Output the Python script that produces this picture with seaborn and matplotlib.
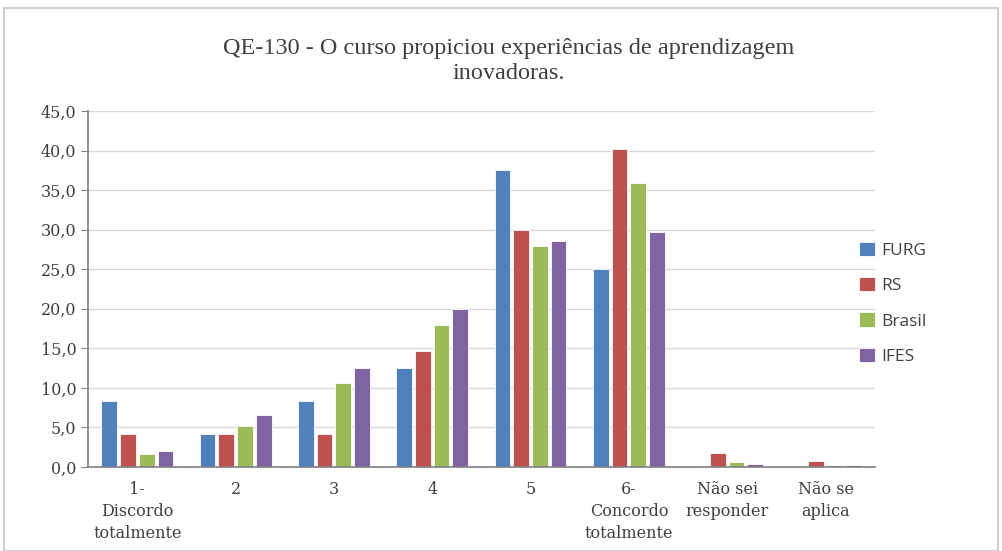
import pandas as pd
import matplotlib
matplotlib.use('Agg')
import matplotlib.pyplot as plt
import seaborn as sns
from matplotlib.ticker import FuncFormatter, FixedLocator
from matplotlib.patches import Rectangle

categories = ["1-\nDiscordo\ntotalmente", "2", "3", "4", "5",
              "6-\nConcordo\ntotalmente", "Não sei\nresponder", "Não se\naplica"]
furg = [8.3, 4.2, 8.3, 12.5, 37.5, 25.0, 0.0, 0.0]
rs = [4.2, 4.2, 4.2, 14.6, 30.0, 40.2, 1.8, 0.8]
brasil = [1.6, 5.2, 10.6, 18.0, 27.9, 35.9, 0.6, 0.2]
ifes = [2.0, 6.6, 12.5, 20.0, 28.6, 29.7, 0.4, 0.3]
series = ["FURG", "RS", "Brasil", "IFES"]
colors = ["#4F81BD", "#C0504D", "#9BBB59", "#8064A2"]

rows = []
for name, vals in zip(series, [furg, rs, brasil, ifes]):
    for c, v in zip(categories, vals):
        rows.append({"cat": c, "serie": name, "valor": v})
df = pd.DataFrame(rows)

sns.set_style("white")
fig = plt.figure(figsize=(10.02, 5.51), dpi=100)
ax = fig.add_axes([0.088, 0.1525, 0.785, 0.646])

sns.barplot(data=df, x="cat", y="valor", hue="serie", order=categories,
            hue_order=series, palette=colors, width=0.76, gap=0.16,
            edgecolor="white", linewidth=0.6, saturation=1, ax=ax)

ax.set_ylim(0, 45)
ax.set_xlim(-0.5, len(categories) - 0.5)
ax.set_yticks([i * 5 for i in range(10)])
ax.yaxis.set_major_formatter(FuncFormatter(lambda v, p: f"{v:.1f}".replace(".", ",")))
ax.grid(axis="y", color="#D9D9D9", linewidth=1)
ax.set_axisbelow(True)
ax.set_xlabel("")
ax.set_ylabel("")
for s in ["top", "right"]:
    ax.spines[s].set_visible(False)
for s in ["left", "bottom"]:
    ax.spines[s].set_color("#808080")
    ax.spines[s].set_linewidth(1.2)

ax.xaxis.set_minor_locator(FixedLocator([i - 0.5 for i in range(len(categories) + 1)]))
ax.tick_params(axis="x", which="major", length=0, pad=10)
ax.tick_params(axis="x", which="minor", length=5, color="#808080")
ax.tick_params(axis="y", length=5, color="#808080", direction="out", left=True)
for lab in ax.get_xticklabels():
    lab.set_fontfamily("DejaVu Serif")
    lab.set_fontsize(11.5)
    lab.set_color("#404040")
    lab.set_linespacing(1.4)
for lab in ax.get_yticklabels():
    lab.set_fontfamily("DejaVu Serif")
    lab.set_fontsize(11.5)
    lab.set_color("#404040")

fig.text(0.508, 0.89, "QE-130 - O curso propiciou experiências de aprendizagem\ninovadoras.",
         ha="center", va="center", fontsize=17.5, family="Liberation Serif",
         color="#404040", linespacing=1.25)

leg = ax.legend(loc="center left", bbox_to_anchor=(0.96, 0.46), frameon=False,
                prop={"family": "Open Sans", "size": 12.5}, handlelength=0.9,
                handleheight=0.9, handletextpad=0.4, labelspacing=1.05)
for t in leg.get_texts():
    t.set_color("#404040")

fig.patches.append(Rectangle((0.004, 0.0), 0.992, 0.985, transform=fig.transFigure,
                             fill=False, edgecolor="#D0D0D0", linewidth=1.5))

fig.savefig("out.png", dpi=100)
